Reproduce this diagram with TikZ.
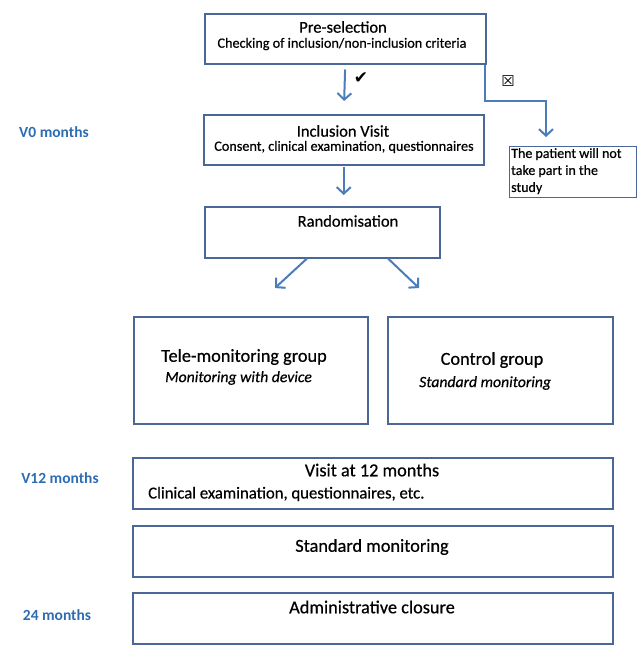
\documentclass[tikz,border=0pt]{standalone}
\usepackage{fontspec}
\setmainfont[FakeBold=0.5]{Carlito}[BoldFont=Carlito Bold,BoldFeatures={FakeBold=0},ItalicFont=Carlito Italic,ItalicFeatures={FakeBold=0.5}]
\newfontfamily\symfont{DejaVu Sans}
\usetikzlibrary{arrows.meta,calc}
\definecolor{boxc}{HTML}{4A6796}
\definecolor{arrc}{HTML}{4A7DBA}
\definecolor{labc}{HTML}{2E6DB4}
\tikzset{
  box/.style={draw=boxc,line width=1.5pt,fill=white,inner sep=0pt,anchor=north west},
  arr/.style={draw=arrc,line width=2pt,-{Straight Barb[length=6.5pt,width=14pt,line width=2pt]}},
  ttl/.style={inner sep=0pt,font=\fontsize{16.5}{19}\selectfont},
  sub/.style={inner sep=0pt,font=\fontsize{14.2}{16}\selectfont},
  big/.style={inner sep=0pt,font=\fontsize{18.3}{21}\selectfont},
  lab/.style={inner sep=0pt,text=labc,font=\bfseries\fontsize{15.5}{18}\selectfont}
}
\begin{document}
\begin{tikzpicture}[x=1pt,y=1pt]
\useasboundingbox[fill=white] (0,0) rectangle (638,-657);
% boxes
\node[box,minimum width=281,minimum height=50] (pre) at (204,-13) {};
\node[box,minimum width=280,minimum height=50] (incl) at (203,-114) {};
\node[box,minimum width=235,minimum height=51] (rand) at (204,-206) {};
\node[box,line width=1.2pt,minimum width=127,minimum height=51] (np) at (509,-146) {};
\node[box,minimum width=234,minimum height=107] (tele) at (133,-316) {};
\node[box,minimum width=225,minimum height=107] (ctrl) at (387,-316) {};
\node[box,minimum width=480,minimum height=51] (v12) at (132,-457) {};
\node[box,minimum width=480,minimum height=51] (std) at (132,-525) {};
\node[box,minimum width=480,minimum height=51] (adm) at (132,-592) {};
% texts
\node[ttl] (pret) at (343,-27) {Pre-selection};
\node[sub] (pres) at (342,-44) {Checking of inclusion/non-inclusion criteria};
\node[ttl] (inclt) at (343,-131) {Inclusion Visit};
\node[sub] (incls) at (344,-147) {Consent, clinical examination, questionnaires};
\node[ttl] (randt) at (348,-221) {Randomisation};
\node[big] (telet) at (244,-357) {Tele-monitoring group};
\node[inner sep=0pt,anchor=west,font=\itshape\fontsize{15.7}{18}\selectfont] (teles) at (165,-378) {Monitoring with device};
\node[big] (ctrlt) at (492,-360) {Control group};
\node[inner sep=0pt,anchor=west,font=\itshape\fontsize{15.7}{18}\selectfont] (ctrls) at (419,-383) {Standard monitoring};
\node[big] (v12t) at (372,-470) {Visit at 12 months};
\node[inner sep=0pt,anchor=west,font=\fontsize{16.7}{19}\selectfont] (v12s) at (148,-494) {Clinical examination, questionnaires, etc.};
\node[big] (stdt) at (372,-547) {Standard monitoring};
\node[big] (admt) at (372,-607) {Administrative closure};
\node[inner sep=0pt,anchor=north west,align=left,font=\fontsize{14}{17}\selectfont] (npt) at (511,-148) {The patient will not\\take part in the\\study};
\node[lab] (l0) at (54,-132) {V0 months};
\node[lab] (l12) at (60,-478) {V12 months};
\node[lab] (l24) at (57,-615) {24 months};
\node[inner sep=0pt,font=\symfont\fontsize{17}{19}\selectfont] (ok) at (361,-78) {✔};
\node[inner sep=0pt,font=\symfont\fontsize{15}{17}\selectfont] (no) at (508,-81) {☒};
% connectors
\draw[arr,shorten <=5pt,shorten >=13pt] (pre.south) -- (incl.north);
\draw[arr,shorten <=1pt,shorten >=11pt] (incl.south) -- (incl.south |- rand.north);
\coordinate (ta) at (275,-288);
\coordinate (ca) at (419,-288);
\coordinate (rj) at (546,-101);
\draw[arr] ($(rand.south west)+(103,0)$) -- (ta);
\draw[arr] ($(rand.south west)+(184,0)$) -- (ca);
\draw[arr,shorten >=9pt] ($(pre.south east)+(-2,0)$) |- (rj) -- ($(np.north west)+(37,0)$);
\end{tikzpicture}
\end{document}
